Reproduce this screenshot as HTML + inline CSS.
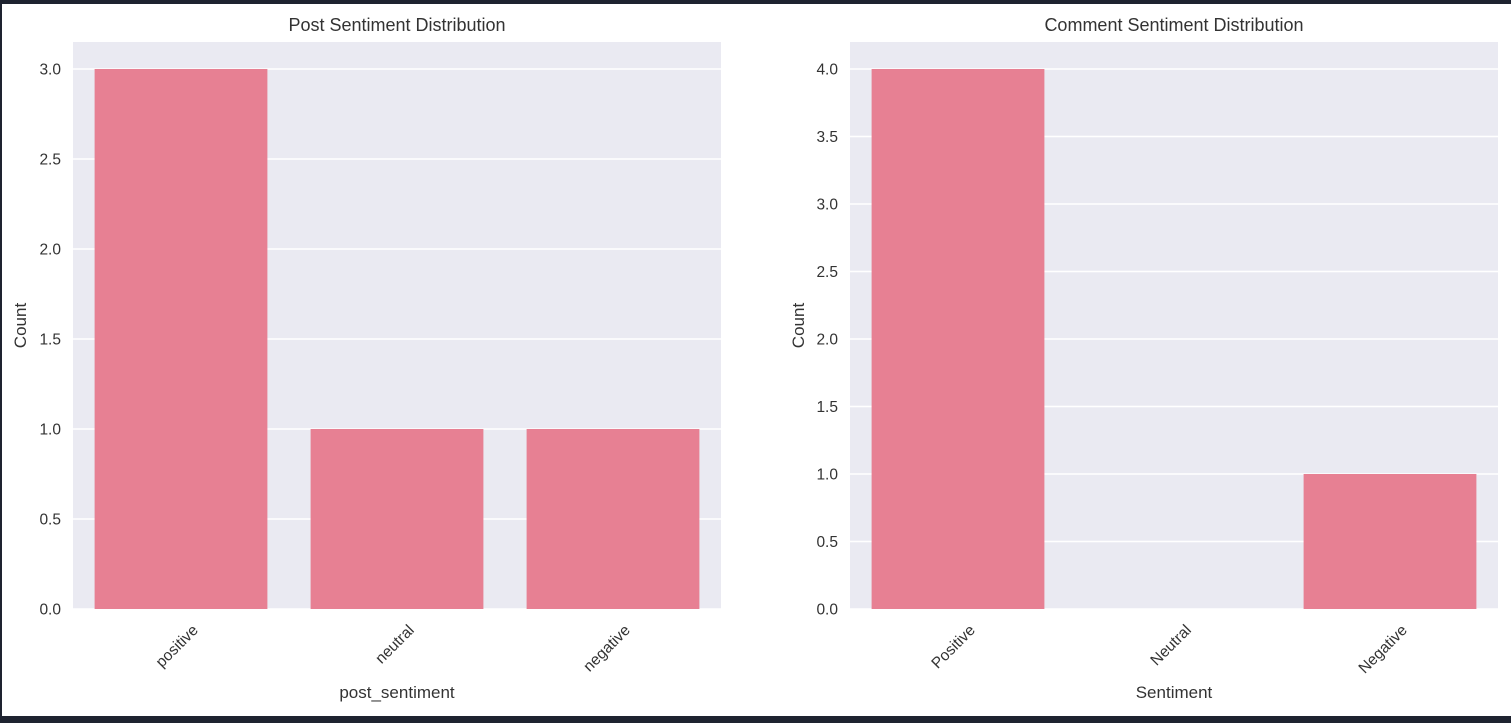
<!DOCTYPE html>
<html><head><meta charset="utf-8"><style>
html,body{margin:0;padding:0;background:#1e2330;}
#wrap{position:absolute;left:2px;top:4px;width:1509px;height:712px;background:#fff;}
svg{position:absolute;left:0;top:0}
text{font-family:"Liberation Sans",sans-serif;fill:#333}
</style></head><body>
<div id="wrap"></div>
<svg id="svg" width="1511" height="723"></svg>
<script>
const postCats=["positive","neutral","negative"];
const postCounts=[3,1,1];
const postTicks=[0,0.5,1,1.5,2,2.5,3];
const comCats=["Positive","Neutral","Negative"];
const comCounts=[4,0,1];
const comTicks=[0,0.5,1,1.5,2,2.5,3,3.5,4];
const NS="http://www.w3.org/2000/svg";
const svg=document.getElementById('svg');
function el(t,a,p){const e=document.createElementNS(NS,t);for(const k in a)e.setAttribute(k,a[k]);(p||svg).appendChild(e);return e;}
function panel(name,x0,x1,y0,y1,ymax,cats,vals,ticks,title,xlabel,ylabelX){
  const g=el('g',{});
  
  
  const bg=el('rect',{x:x0,y:y0,width:x1-x0,height:y1-y0,fill:'#eaeaf2'},g);
  
  
  const ys=v=>y1-(v/ymax)*(y1-y0);
  const bw=(x1-x0)/cats.length;
  ticks.forEach(t=>{
    el('line',{x1:x0,x2:x1,y1:ys(t),y2:ys(t),stroke:'#fff','stroke-width':1.5},g);
    const tx=el('text',{x:x0-12,y:ys(t)+5.5,'text-anchor':'end','font-size':15.5},g);
    tx.textContent=t.toFixed(1);
    
    
  });
  cats.forEach((c,i)=>{
    const cx=x0+bw*(i+0.5);
    const v=vals[i];
    if(v>0){
      const r=el('rect',{x:cx-bw*0.4,y:ys(v),width:bw*0.8,height:y1-ys(v),fill:'#e78093'},g);
      
      
    }
    const tx=el('text',{x:0,y:0,'text-anchor':'end','font-size':15.5,transform:`translate(${cx+18},${y1+22}) rotate(-45)`},g);
    tx.textContent=c;
    
    
  });
  const t=el('text',{x:(x0+x1)/2,y:y0-11,'text-anchor':'middle','font-size':18},g);
  t.textContent=title;
  
  
  const xl=el('text',{x:(x0+x1)/2,y:698,'text-anchor':'middle','font-size':17},g);
  xl.textContent=xlabel;
  
  
  const yl=el('text',{x:0,y:0,'text-anchor':'middle','font-size':17,transform:`translate(${ylabelX},${(y0+y1)/2}) rotate(-90)`},g);
  yl.textContent='Count';
  
  
}
panel('post-sentiment-chart',73,721,42,609,3.15,postCats,postCounts,postTicks,'Post Sentiment Distribution','post_sentiment',26);
panel('comment-sentiment-chart',850,1498,42,609,4.2,comCats,comCounts,comTicks,'Comment Sentiment Distribution','Sentiment',804);
</script>
</body></html>
